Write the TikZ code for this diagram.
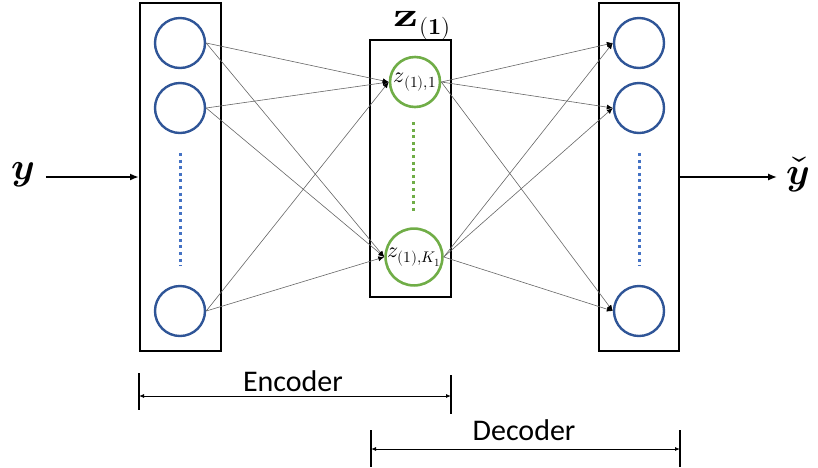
\documentclass[tikz,border=0pt]{standalone}
\usepackage{graphicx}
\usepackage{fontspec}
\usepackage{unicode-math}
\setmathfont{Latin Modern Math}
\newfontfamily\calib{Carlito}
\usetikzlibrary{arrows.meta}
\definecolor{circblue}{HTML}{2F5597}
\definecolor{dotblue}{HTML}{4472C4}
\definecolor{circgreen}{HTML}{70AD47}
\begin{document}
\begin{tikzpicture}[x=1pt,y=-1pt,
  layerbox/.style={draw=black,line width=2pt,inner sep=0pt},
  bcirc/.style={circle,draw=circblue,line width=2.4pt,minimum size=50pt,inner sep=0pt},
  gcirc/.style={circle,draw=circgreen,line width=2.6pt,minimum size=50pt,inner sep=0pt,font=\fontsize{22}{24}\selectfont},
  bdots/.style={draw=dotblue,line width=3pt,dash pattern=on 3pt off 3.6pt},
  gdots/.style={draw=circgreen,line width=3pt,dash pattern=on 3pt off 3.6pt},
  conn/.style={draw=black!60,line width=0.6pt,-{Latex[length=6pt,width=5pt,color=black]}},
  io/.style={draw=black,line width=2pt,-{Latex[length=9pt,width=7pt]}},
  dim/.style={draw=black,line width=0.9pt,{Latex[length=5pt,width=4pt]}-{Latex[length=5pt,width=4pt]}},
  tick/.style={draw=black,line width=1.2pt},
  lbl/.style={font=\calib\fontsize{30}{33}\selectfont,inner sep=0pt}
]
\useasboundingbox (0,0) rectangle (818,467);

% layer boxes
\node[layerbox,minimum width=81pt,minimum height=348pt] (Lbox) at (180.5,177) {};
\node[layerbox,minimum width=81pt,minimum height=257pt] (Mbox) at (410.5,168.5) {};
\node[layerbox,minimum width=80pt,minimum height=348pt] (Rbox) at (639,177) {};

% circles
\node[bcirc] (L1) at (180,43) {};
\node[bcirc] (L2) at (180,108) {};
\node[bcirc] (L3) at (180,311) {};
\node[bcirc] (R1) at (639,43) {};
\node[bcirc] (R2) at (639,108) {};
\node[bcirc] (R3) at (639,311) {};
\node[gcirc] (M1) at (415,82) {$z_{(1),1}$};
\node[gcirc] (M2) at (414,257) {$z_{(1),K_1}$};

% dotted
\coordinate (ld1) at (180,153); \coordinate (ld2) at (180,266);
\coordinate (rd1) at (639,153); \coordinate (rd2) at (639,266);
\coordinate (md1) at (413,122); \coordinate (md2) at (413,214);
\draw[bdots] (ld1) -- (ld2);
\draw[bdots] (rd1) -- (rd2);
\draw[gdots] (md1) -- (md2);

% z label
\node[inner sep=0pt,anchor=base west] (zlab) at (393,26) {\fontsize{34}{36}\selectfont\scalebox{1.45}[1]{$\symbf{z}$}\kern1pt\raisebox{-8pt}{\fontsize{23}{25}\selectfont$(\symbf{1})$}};

% connections
\foreach \a in {L1,L2,L3}{\foreach \b in {M1,M2}{\draw[conn] (\a.east) -- (\b.west);}}
\foreach \a in {M1,M2}{\foreach \b in {R1,R2,R3}{\draw[conn] (\a.east) -- (\b.west);}}

% input / output
\node[inner sep=0pt] (yin) at (23,175) {\fontsize{38}{40}\selectfont$\symbfit{y}$};
\node[inner sep=0pt] (yout) at (798,175) {\fontsize{38}{40}\selectfont$\check{\symbfit{y}}$};
\draw[io] ([xshift=11pt]yin.east |- Lbox.west) -- (Lbox.west);
\draw[io] (Rbox.east) -- ([xshift=-9pt]yout.west |- Rbox.east);

% encoder / decoder
\coordinate (e1t) at (139,373); \coordinate (e1b) at (139,410);
\coordinate (e2t) at (451,375); \coordinate (e2b) at (451,414);
\coordinate (e1) at (139,396); \coordinate (e2) at (451,396);
\draw[tick] (e1t) -- (e1b);
\draw[tick] (e2t) -- (e2b);
\draw[dim] (e1) -- (e2);
\node[lbl] (enc) at (293,381) {Encoder};

\coordinate (d1t) at (371,430); \coordinate (d1b) at (371,467);
\coordinate (d2t) at (680,430); \coordinate (d2b) at (680,467);
\coordinate (d1) at (371,449); \coordinate (d2) at (680,449);
\draw[tick] (d1t) -- (d1b);
\draw[tick] (d2t) -- (d2b);
\draw[dim] (d1) -- (d2);
\node[lbl] (dec) at (524,430) {Decoder};
\end{tikzpicture}
\end{document}
